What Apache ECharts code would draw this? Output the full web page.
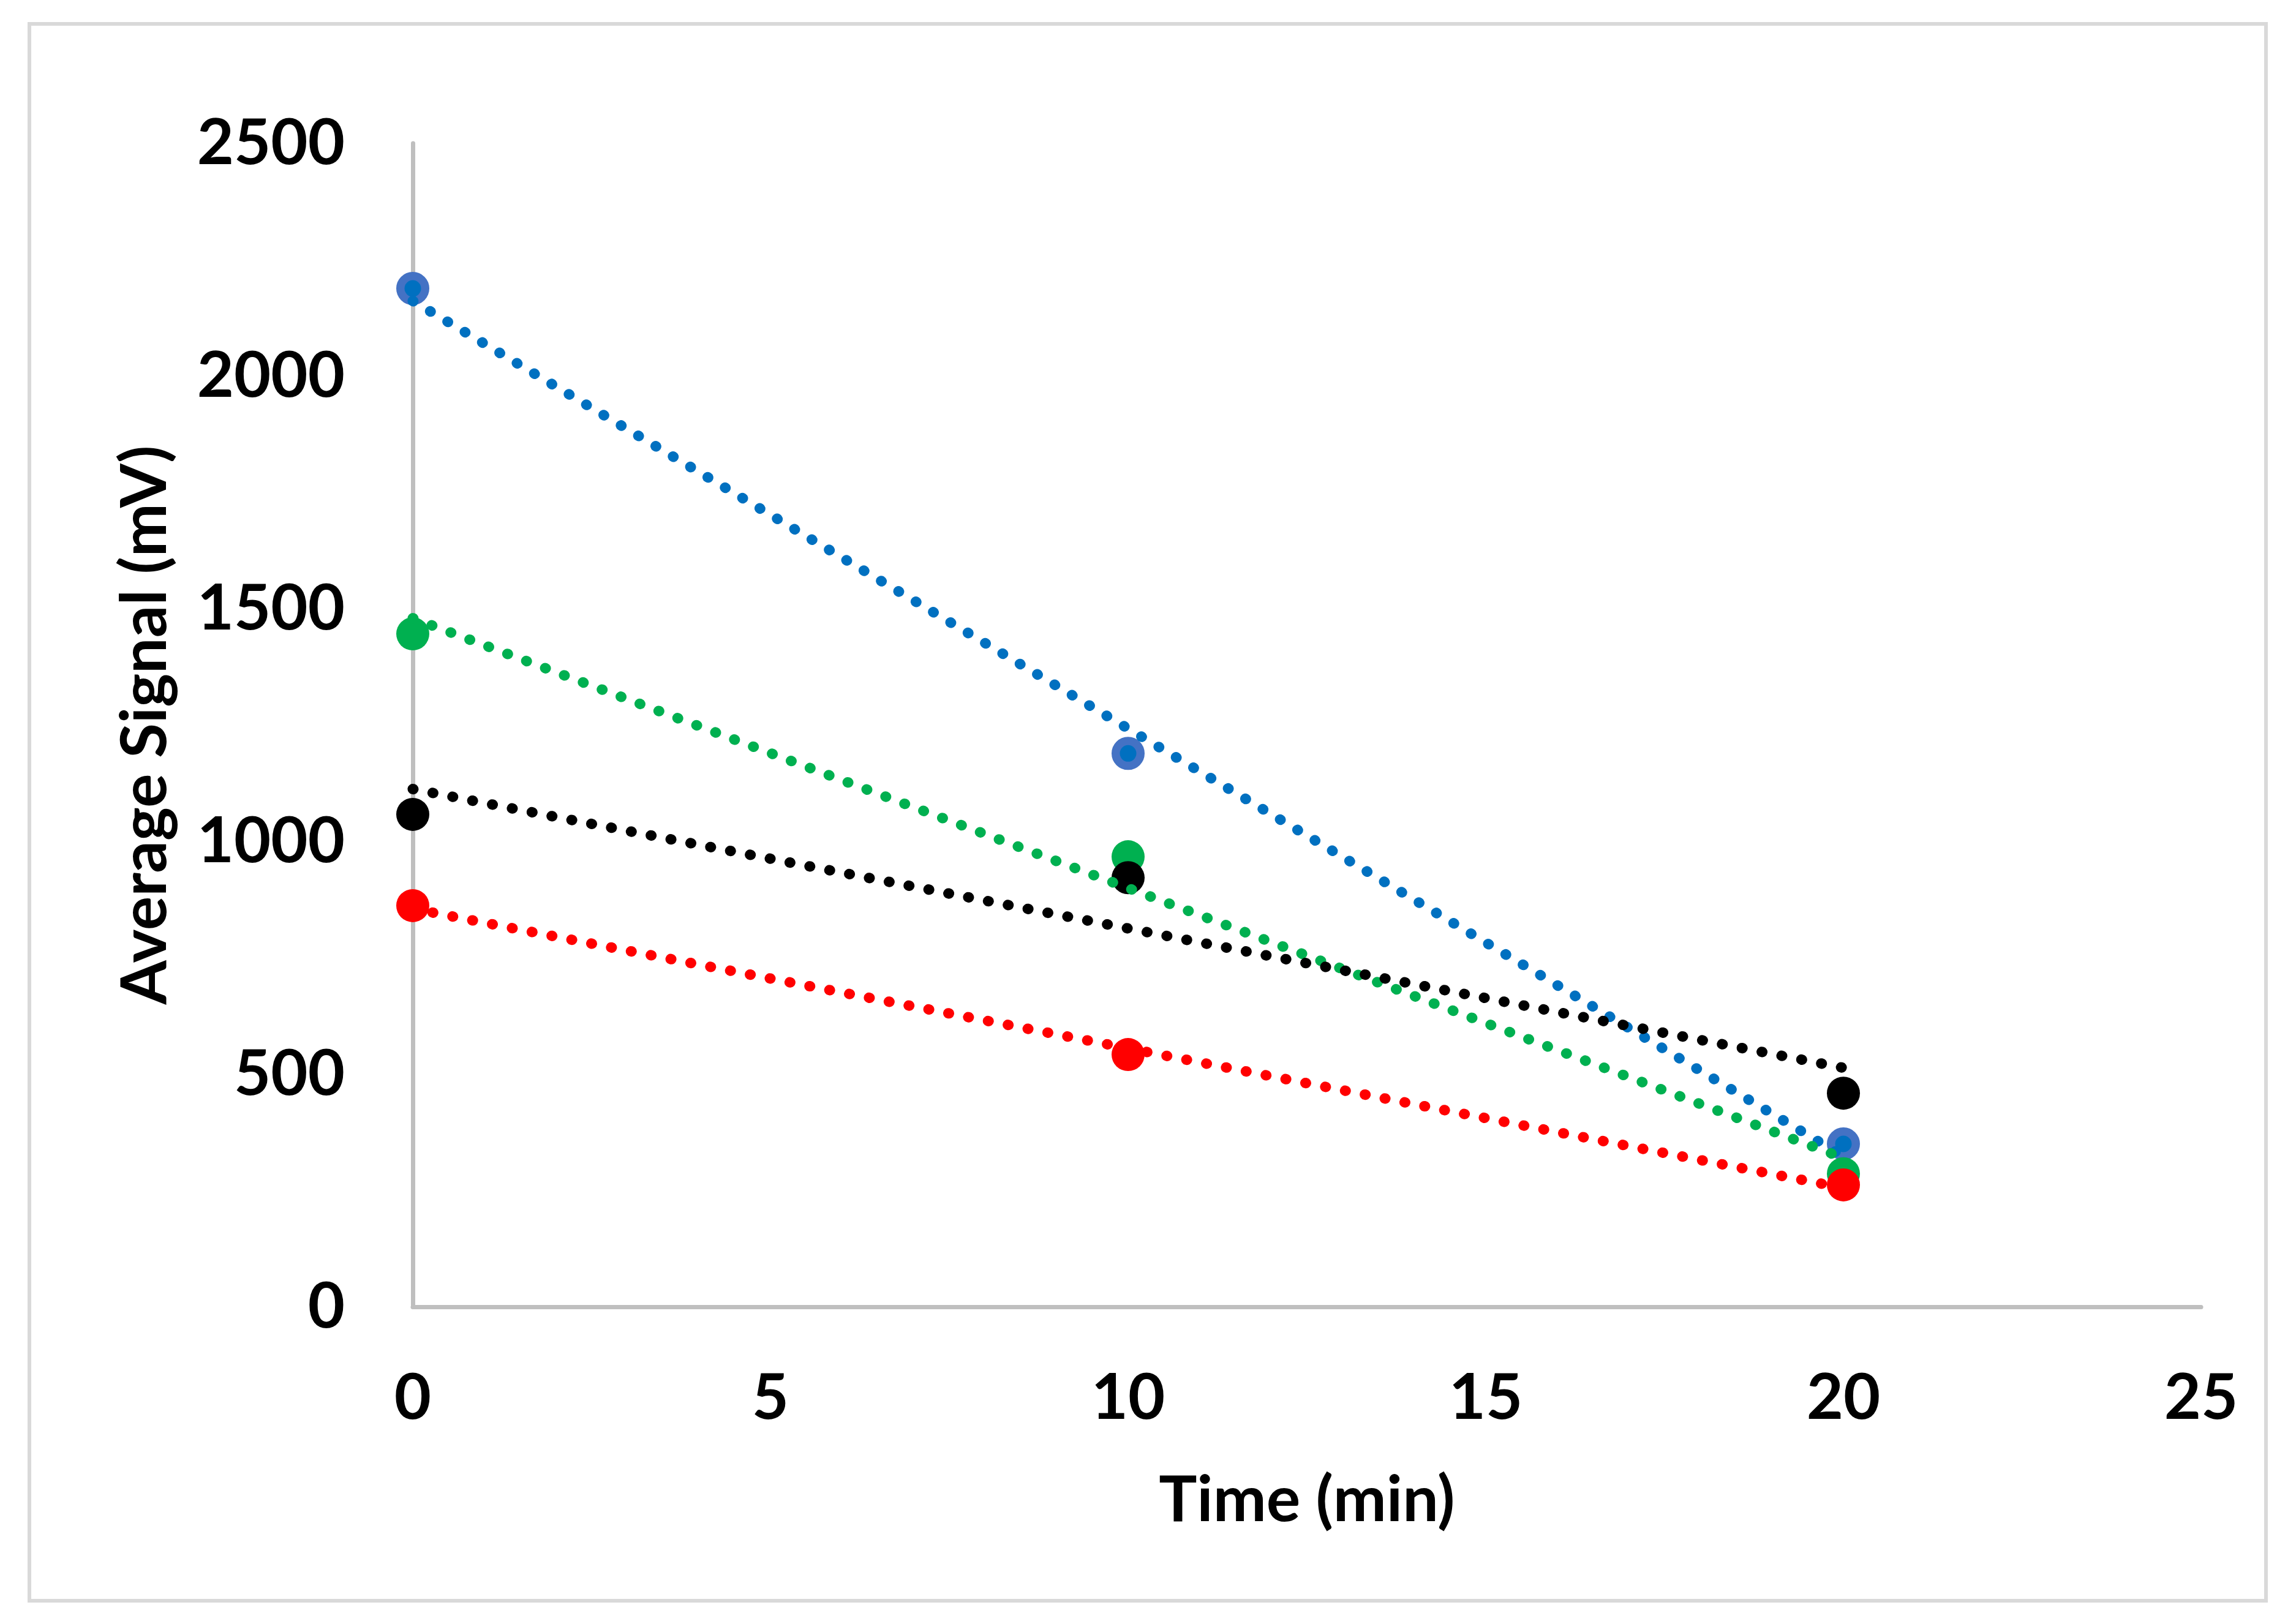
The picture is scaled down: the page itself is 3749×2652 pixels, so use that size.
<!DOCTYPE html>
<html><head><meta charset="utf-8">
<script src="https://cdn.jsdelivr.net/npm/echarts@6/dist/echarts.min.js"></script>
<style>html,body{margin:0;padding:0;background:#fff}#c{width:3749px;height:2652px}</style>
</head><body><div id="c"></div>
<script>
// ---- data ----
const times = [0, 10, 20];
const blueValues  = [2188, 1189, 350];
const greenValues = [1446, 967, 286];
const blackValues = [1058, 922, 459];
const redValues   = [862, 542, 262];
const xAxisTitle = 'Time (min)';
const yAxisTitle = 'Average Signal (mV)';

const FONT = 'Lato';
const FS = 104;

// least-squares linear trendline from the data arrays
function trend(xs, ys) {
  const n = xs.length;
  const mx = xs.reduce((a, b) => a + b, 0) / n;
  const my = ys.reduce((a, b) => a + b, 0) / n;
  let sxy = 0, sxx = 0;
  for (let i = 0; i < n; i++) { sxy += (xs[i] - mx) * (ys[i] - my); sxx += (xs[i] - mx) * (xs[i] - mx); }
  const b = sxy / sxx, a = my - b * mx;
  const x0 = Math.min(...xs), x1 = Math.max(...xs);
  return [[x0, a + b * x0], [x1, a + b * x1]];
}
function pts(ys) { return times.map((t, i) => [t, ys[i]]); }

const groups = [
  { name: 'Blue',  values: blueValues,  fill: '#0070C0', border: '#4472C4', line: '#0070C0' },
  { name: 'Green', values: greenValues, fill: '#00B050', border: null,      line: '#00B050' },
  { name: 'Black', values: blackValues, fill: '#000000', border: null,      line: '#000000' },
  { name: 'Red',   values: redValues,   fill: '#FF0000', border: null,      line: '#FF0000' }
];

const series = [];
groups.forEach(g => {
  series.push({
    name: g.name, type: 'scatter', data: pts(g.values), symbol: 'circle',
    symbolSize: g.border ? 40.5 : 54, z: 2,
    itemStyle: g.border ? { color: g.fill, borderColor: g.border, borderWidth: 13.5, opacity: 1 }
                        : { color: g.fill, opacity: 1 },
    emphasis: { disabled: true }
  });
});
groups.forEach(g => {
  series.push({
    name: g.name + ' trend', type: 'line', data: trend(times, g.values), showSymbol: false, symbol: 'none',
    z: 3, silent: true,
    lineStyle: { color: g.line, width: 17, type: [1, 32], cap: 'round' }
  });
});

const labelStyle = { fontFamily: FONT, fontWeight: 'bold', fontSize: FS, color: '#000', lineHeight: FS };

const chart = echarts.init(document.getElementById('c'), null, { renderer: 'canvas' });
chart.setOption({
  backgroundColor: '#ffffff',
  animation: false,
  grid: { left: 674, right: 155, top: 234, bottom: 518, containLabel: false },
  graphic: [{
    type: 'rect', z: 0, silent: true,
    shape: { x: 48, y: 39, width: 3652, height: 2575 },
    style: { fill: 'none', stroke: '#d9d9d9', lineWidth: 6 }
  }],
  xAxis: {
    type: 'value', min: 0, max: 25, interval: 5,
    name: xAxisTitle, nameLocation: 'middle', nameGap: 316,
    nameTextStyle: Object.assign({}, labelStyle, { verticalAlign: 'middle', align: 'center' }),
    axisLine: { show: true, onZero: false, lineStyle: { color: '#bfbfbf', width: 7 } },
    axisTick: { show: false },
    splitLine: { show: false },
    axisLabel: Object.assign({ margin: 97, formatter: v => String(v) }, labelStyle)
  },
  yAxis: {
    type: 'value', min: 0, max: 2500, interval: 500,
    name: yAxisTitle, nameLocation: 'middle', nameGap: 437, nameRotate: 90,
    nameTextStyle: Object.assign({}, labelStyle, { verticalAlign: 'middle', align: 'center' }),
    axisLine: { show: true, lineStyle: { color: '#bfbfbf', width: 7 } },
    axisTick: { show: false },
    splitLine: { show: false },
    axisLabel: Object.assign({ margin: 111, formatter: v => String(v) }, labelStyle)
  },
  series: series
});
</script></body></html>
